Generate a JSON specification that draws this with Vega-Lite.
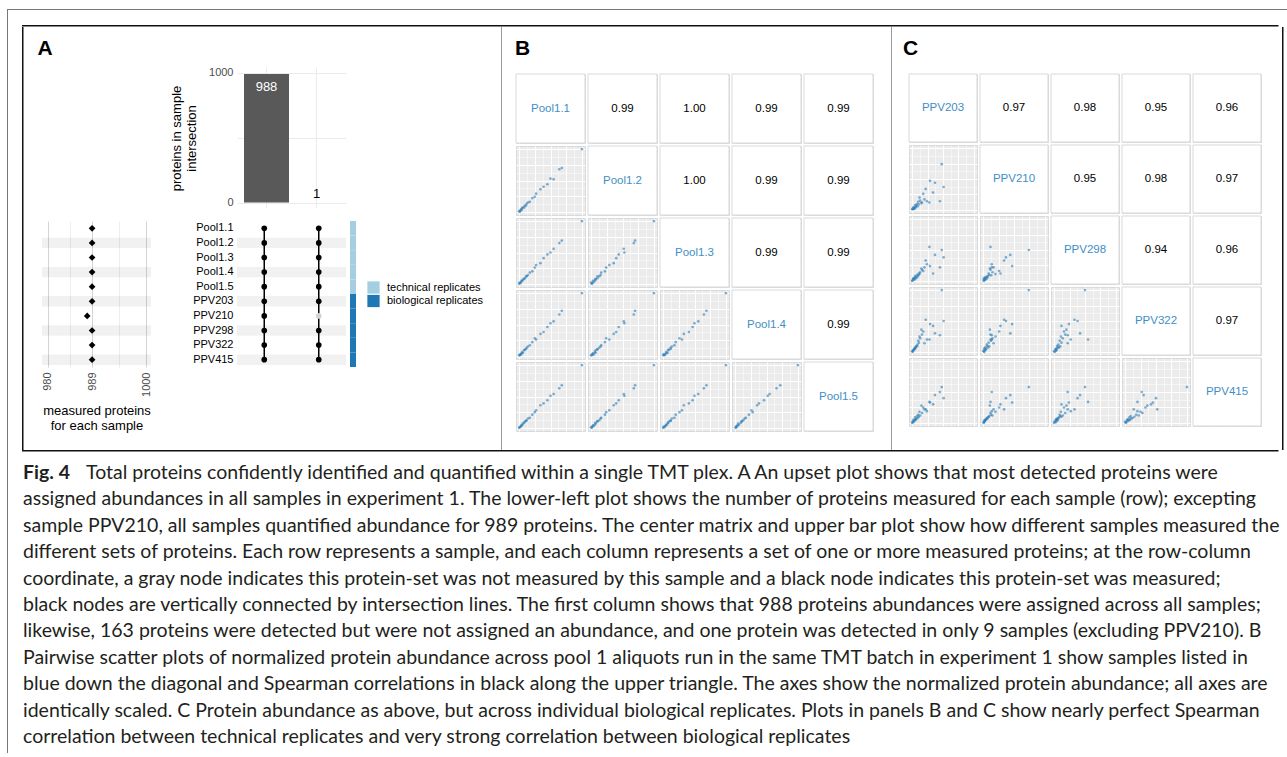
{
"$schema":"https://vega.github.io/schema/vega-lite/v6.json",
"padding":{"left":7,"top":9,"right":0,"bottom":0},
"background":"white",
"config":{"view":{"stroke":null},"font":"Liberation Sans","concat":{"spacing":0}},
"datasets":{
"samples":[{"s":"Pool1.1","n":989,"g":"technical replicates"},{"s":"Pool1.2","n":989,"g":"technical replicates"},{"s":"Pool1.3","n":989,"g":"technical replicates"},{"s":"Pool1.4","n":989,"g":"technical replicates"},{"s":"Pool1.5","n":989,"g":"technical replicates"},{"s":"PPV203","n":989,"g":"biological replicates"},{"s":"PPV210","n":988,"g":"biological replicates"},{"s":"PPV298","n":989,"g":"biological replicates"},{"s":"PPV322","n":989,"g":"biological replicates"},{"s":"PPV415","n":989,"g":"biological replicates"}],
"matrix":[{"s":"Pool1.1","set":"a","m":true},{"s":"Pool1.2","set":"a","m":true},{"s":"Pool1.3","set":"a","m":true},{"s":"Pool1.4","set":"a","m":true},{"s":"Pool1.5","set":"a","m":true},{"s":"PPV203","set":"a","m":true},{"s":"PPV210","set":"a","m":true},{"s":"PPV298","set":"a","m":true},{"s":"PPV322","set":"a","m":true},{"s":"PPV415","set":"a","m":true},{"s":"Pool1.1","set":"b","m":true},{"s":"Pool1.2","set":"b","m":true},{"s":"Pool1.3","set":"b","m":true},{"s":"Pool1.4","set":"b","m":true},{"s":"Pool1.5","set":"b","m":true},{"s":"PPV203","set":"b","m":true},{"s":"PPV210","set":"b","m":false},{"s":"PPV298","set":"b","m":true},{"s":"PPV322","set":"b","m":true},{"s":"PPV415","set":"b","m":true}],
"bars":[{"set":"a","n":988},{"set":"b","n":1}],
"B":[
{"r":1,"c":1,"t":"Pool1.1"},{"r":1,"c":2,"t":"0.99"},{"r":1,"c":3,"t":"1.00"},{"r":1,"c":4,"t":"0.99"},{"r":1,"c":5,"t":"0.99"},
{"r":2,"c":2,"t":"Pool1.2"},{"r":2,"c":3,"t":"1.00"},{"r":2,"c":4,"t":"0.99"},{"r":2,"c":5,"t":"0.99"},
{"r":3,"c":3,"t":"Pool1.3"},{"r":3,"c":4,"t":"0.99"},{"r":3,"c":5,"t":"0.99"},
{"r":4,"c":4,"t":"Pool1.4"},{"r":4,"c":5,"t":"0.99"},
{"r":5,"c":5,"t":"Pool1.5"},
{"r":2,"c":1,"x":0,"y":0.01},{"r":2,"c":1,"x":0.01,"y":0},{"r":2,"c":1,"x":0.02,"y":0.02},{"r":2,"c":1,"x":0.03,"y":0.04},{"r":2,"c":1,"x":0.04,"y":0.03},{"r":2,"c":1,"x":0.05,"y":0.06},{"r":2,"c":1,"x":0.06,"y":0.07},{"r":2,"c":1,"x":0.08,"y":0.07},{"r":2,"c":1,"x":0.09,"y":0.1},{"r":2,"c":1,"x":0.11,"y":0.1},{"r":2,"c":1,"x":0.12,"y":0.13},{"r":2,"c":1,"x":0.14,"y":0.15},{"r":2,"c":1,"x":0.17,"y":0.16},{"r":2,"c":1,"x":0.21,"y":0.22},{"r":2,"c":1,"x":0.25,"y":0.24},{"r":2,"c":1,"x":0.27,"y":0.29},{"r":2,"c":1,"x":0.34,"y":0.36},{"r":2,"c":1,"x":0.39,"y":0.4},{"r":2,"c":1,"x":0.45,"y":0.44},{"r":2,"c":1,"x":0.5,"y":0.53},{"r":2,"c":1,"x":0.55,"y":0.52},{"r":2,"c":1,"x":0.64,"y":0.68},{"r":2,"c":1,"x":0.68,"y":0.7},{"r":2,"c":1,"x":1,"y":1},
{"r":3,"c":1,"x":0,"y":0},{"r":3,"c":1,"x":0.01,"y":0.02},{"r":3,"c":1,"x":0.02,"y":0.01},{"r":3,"c":1,"x":0.03,"y":0.03},{"r":3,"c":1,"x":0.04,"y":0.05},{"r":3,"c":1,"x":0.05,"y":0.05},{"r":3,"c":1,"x":0.06,"y":0.07},{"r":3,"c":1,"x":0.08,"y":0.08},{"r":3,"c":1,"x":0.09,"y":0.09},{"r":3,"c":1,"x":0.11,"y":0.12},{"r":3,"c":1,"x":0.12,"y":0.12},{"r":3,"c":1,"x":0.14,"y":0.14},{"r":3,"c":1,"x":0.17,"y":0.18},{"r":3,"c":1,"x":0.21,"y":0.2},{"r":3,"c":1,"x":0.25,"y":0.26},{"r":3,"c":1,"x":0.27,"y":0.3},{"r":3,"c":1,"x":0.34,"y":0.33},{"r":3,"c":1,"x":0.39,"y":0.41},{"r":3,"c":1,"x":0.45,"y":0.47},{"r":3,"c":1,"x":0.5,"y":0.5},{"r":3,"c":1,"x":0.55,"y":0.56},{"r":3,"c":1,"x":0.64,"y":0.65},{"r":3,"c":1,"x":0.68,"y":0.69},{"r":3,"c":1,"x":1,"y":1},
{"r":3,"c":2,"x":0.01,"y":0},{"r":3,"c":2,"x":0,"y":0.02},{"r":3,"c":2,"x":0.02,"y":0.01},{"r":3,"c":2,"x":0.04,"y":0.03},{"r":3,"c":2,"x":0.03,"y":0.05},{"r":3,"c":2,"x":0.06,"y":0.05},{"r":3,"c":2,"x":0.07,"y":0.07},{"r":3,"c":2,"x":0.07,"y":0.08},{"r":3,"c":2,"x":0.1,"y":0.09},{"r":3,"c":2,"x":0.1,"y":0.12},{"r":3,"c":2,"x":0.13,"y":0.12},{"r":3,"c":2,"x":0.15,"y":0.14},{"r":3,"c":2,"x":0.16,"y":0.18},{"r":3,"c":2,"x":0.22,"y":0.2},{"r":3,"c":2,"x":0.24,"y":0.26},{"r":3,"c":2,"x":0.29,"y":0.3},{"r":3,"c":2,"x":0.36,"y":0.33},{"r":3,"c":2,"x":0.4,"y":0.41},{"r":3,"c":2,"x":0.44,"y":0.47},{"r":3,"c":2,"x":0.53,"y":0.5},{"r":3,"c":2,"x":0.52,"y":0.56},{"r":3,"c":2,"x":0.68,"y":0.65},{"r":3,"c":2,"x":0.7,"y":0.69},{"r":3,"c":2,"x":1,"y":1},
{"r":4,"c":1,"x":0,"y":0.01},{"r":4,"c":1,"x":0.01,"y":0.01},{"r":4,"c":1,"x":0.02,"y":0.03},{"r":4,"c":1,"x":0.03,"y":0.02},{"r":4,"c":1,"x":0.04,"y":0.04},{"r":4,"c":1,"x":0.05,"y":0.06},{"r":4,"c":1,"x":0.06,"y":0.05},{"r":4,"c":1,"x":0.08,"y":0.09},{"r":4,"c":1,"x":0.09,"y":0.1},{"r":4,"c":1,"x":0.11,"y":0.11},{"r":4,"c":1,"x":0.12,"y":0.13},{"r":4,"c":1,"x":0.14,"y":0.15},{"r":4,"c":1,"x":0.17,"y":0.17},{"r":4,"c":1,"x":0.21,"y":0.22},{"r":4,"c":1,"x":0.25,"y":0.28},{"r":4,"c":1,"x":0.27,"y":0.26},{"r":4,"c":1,"x":0.34,"y":0.35},{"r":4,"c":1,"x":0.39,"y":0.38},{"r":4,"c":1,"x":0.45,"y":0.46},{"r":4,"c":1,"x":0.5,"y":0.52},{"r":4,"c":1,"x":0.55,"y":0.55},{"r":4,"c":1,"x":0.64,"y":0.66},{"r":4,"c":1,"x":0.68,"y":0.72},{"r":4,"c":1,"x":1,"y":1},
{"r":4,"c":2,"x":0.01,"y":0.01},{"r":4,"c":2,"x":0,"y":0.01},{"r":4,"c":2,"x":0.02,"y":0.03},{"r":4,"c":2,"x":0.04,"y":0.02},{"r":4,"c":2,"x":0.03,"y":0.04},{"r":4,"c":2,"x":0.06,"y":0.06},{"r":4,"c":2,"x":0.07,"y":0.05},{"r":4,"c":2,"x":0.07,"y":0.09},{"r":4,"c":2,"x":0.1,"y":0.1},{"r":4,"c":2,"x":0.1,"y":0.11},{"r":4,"c":2,"x":0.13,"y":0.13},{"r":4,"c":2,"x":0.15,"y":0.15},{"r":4,"c":2,"x":0.16,"y":0.17},{"r":4,"c":2,"x":0.22,"y":0.22},{"r":4,"c":2,"x":0.24,"y":0.28},{"r":4,"c":2,"x":0.29,"y":0.26},{"r":4,"c":2,"x":0.36,"y":0.35},{"r":4,"c":2,"x":0.4,"y":0.38},{"r":4,"c":2,"x":0.44,"y":0.46},{"r":4,"c":2,"x":0.53,"y":0.52},{"r":4,"c":2,"x":0.52,"y":0.55},{"r":4,"c":2,"x":0.68,"y":0.66},{"r":4,"c":2,"x":0.7,"y":0.72},{"r":4,"c":2,"x":1,"y":1},
{"r":4,"c":3,"x":0,"y":0.01},{"r":4,"c":3,"x":0.02,"y":0.01},{"r":4,"c":3,"x":0.01,"y":0.03},{"r":4,"c":3,"x":0.03,"y":0.02},{"r":4,"c":3,"x":0.05,"y":0.04},{"r":4,"c":3,"x":0.05,"y":0.06},{"r":4,"c":3,"x":0.07,"y":0.05},{"r":4,"c":3,"x":0.08,"y":0.09},{"r":4,"c":3,"x":0.09,"y":0.1},{"r":4,"c":3,"x":0.12,"y":0.11},{"r":4,"c":3,"x":0.12,"y":0.13},{"r":4,"c":3,"x":0.14,"y":0.15},{"r":4,"c":3,"x":0.18,"y":0.17},{"r":4,"c":3,"x":0.2,"y":0.22},{"r":4,"c":3,"x":0.26,"y":0.28},{"r":4,"c":3,"x":0.3,"y":0.26},{"r":4,"c":3,"x":0.33,"y":0.35},{"r":4,"c":3,"x":0.41,"y":0.38},{"r":4,"c":3,"x":0.47,"y":0.46},{"r":4,"c":3,"x":0.5,"y":0.52},{"r":4,"c":3,"x":0.56,"y":0.55},{"r":4,"c":3,"x":0.65,"y":0.66},{"r":4,"c":3,"x":0.69,"y":0.72},{"r":4,"c":3,"x":1,"y":1},
{"r":5,"c":1,"x":0,"y":0},{"r":5,"c":1,"x":0.01,"y":0.01},{"r":5,"c":1,"x":0.02,"y":0.02},{"r":5,"c":1,"x":0.03,"y":0.03},{"r":5,"c":1,"x":0.04,"y":0.04},{"r":5,"c":1,"x":0.05,"y":0.05},{"r":5,"c":1,"x":0.06,"y":0.07},{"r":5,"c":1,"x":0.08,"y":0.08},{"r":5,"c":1,"x":0.09,"y":0.1},{"r":5,"c":1,"x":0.11,"y":0.11},{"r":5,"c":1,"x":0.12,"y":0.12},{"r":5,"c":1,"x":0.14,"y":0.15},{"r":5,"c":1,"x":0.17,"y":0.16},{"r":5,"c":1,"x":0.21,"y":0.21},{"r":5,"c":1,"x":0.25,"y":0.25},{"r":5,"c":1,"x":0.27,"y":0.28},{"r":5,"c":1,"x":0.34,"y":0.36},{"r":5,"c":1,"x":0.39,"y":0.39},{"r":5,"c":1,"x":0.45,"y":0.44},{"r":5,"c":1,"x":0.5,"y":0.51},{"r":5,"c":1,"x":0.55,"y":0.54},{"r":5,"c":1,"x":0.64,"y":0.63},{"r":5,"c":1,"x":0.68,"y":0.68},{"r":5,"c":1,"x":1,"y":1},
{"r":5,"c":2,"x":0.01,"y":0},{"r":5,"c":2,"x":0,"y":0.01},{"r":5,"c":2,"x":0.02,"y":0.02},{"r":5,"c":2,"x":0.04,"y":0.03},{"r":5,"c":2,"x":0.03,"y":0.04},{"r":5,"c":2,"x":0.06,"y":0.05},{"r":5,"c":2,"x":0.07,"y":0.07},{"r":5,"c":2,"x":0.07,"y":0.08},{"r":5,"c":2,"x":0.1,"y":0.1},{"r":5,"c":2,"x":0.1,"y":0.11},{"r":5,"c":2,"x":0.13,"y":0.12},{"r":5,"c":2,"x":0.15,"y":0.15},{"r":5,"c":2,"x":0.16,"y":0.16},{"r":5,"c":2,"x":0.22,"y":0.21},{"r":5,"c":2,"x":0.24,"y":0.25},{"r":5,"c":2,"x":0.29,"y":0.28},{"r":5,"c":2,"x":0.36,"y":0.36},{"r":5,"c":2,"x":0.4,"y":0.39},{"r":5,"c":2,"x":0.44,"y":0.44},{"r":5,"c":2,"x":0.53,"y":0.51},{"r":5,"c":2,"x":0.52,"y":0.54},{"r":5,"c":2,"x":0.68,"y":0.63},{"r":5,"c":2,"x":0.7,"y":0.68},{"r":5,"c":2,"x":1,"y":1},
{"r":5,"c":3,"x":0,"y":0},{"r":5,"c":3,"x":0.02,"y":0.01},{"r":5,"c":3,"x":0.01,"y":0.02},{"r":5,"c":3,"x":0.03,"y":0.03},{"r":5,"c":3,"x":0.05,"y":0.04},{"r":5,"c":3,"x":0.05,"y":0.05},{"r":5,"c":3,"x":0.07,"y":0.07},{"r":5,"c":3,"x":0.08,"y":0.08},{"r":5,"c":3,"x":0.09,"y":0.1},{"r":5,"c":3,"x":0.12,"y":0.11},{"r":5,"c":3,"x":0.12,"y":0.12},{"r":5,"c":3,"x":0.14,"y":0.15},{"r":5,"c":3,"x":0.18,"y":0.16},{"r":5,"c":3,"x":0.2,"y":0.21},{"r":5,"c":3,"x":0.26,"y":0.25},{"r":5,"c":3,"x":0.3,"y":0.28},{"r":5,"c":3,"x":0.33,"y":0.36},{"r":5,"c":3,"x":0.41,"y":0.39},{"r":5,"c":3,"x":0.47,"y":0.44},{"r":5,"c":3,"x":0.5,"y":0.51},{"r":5,"c":3,"x":0.56,"y":0.54},{"r":5,"c":3,"x":0.65,"y":0.63},{"r":5,"c":3,"x":0.69,"y":0.68},{"r":5,"c":3,"x":1,"y":1},
{"r":5,"c":4,"x":0.01,"y":0},{"r":5,"c":4,"x":0.01,"y":0.01},{"r":5,"c":4,"x":0.03,"y":0.02},{"r":5,"c":4,"x":0.02,"y":0.03},{"r":5,"c":4,"x":0.04,"y":0.04},{"r":5,"c":4,"x":0.06,"y":0.05},{"r":5,"c":4,"x":0.05,"y":0.07},{"r":5,"c":4,"x":0.09,"y":0.08},{"r":5,"c":4,"x":0.1,"y":0.1},{"r":5,"c":4,"x":0.11,"y":0.11},{"r":5,"c":4,"x":0.13,"y":0.12},{"r":5,"c":4,"x":0.15,"y":0.15},{"r":5,"c":4,"x":0.17,"y":0.16},{"r":5,"c":4,"x":0.22,"y":0.21},{"r":5,"c":4,"x":0.28,"y":0.25},{"r":5,"c":4,"x":0.26,"y":0.28},{"r":5,"c":4,"x":0.35,"y":0.36},{"r":5,"c":4,"x":0.38,"y":0.39},{"r":5,"c":4,"x":0.46,"y":0.44},{"r":5,"c":4,"x":0.52,"y":0.51},{"r":5,"c":4,"x":0.55,"y":0.54},{"r":5,"c":4,"x":0.66,"y":0.63},{"r":5,"c":4,"x":0.72,"y":0.68},{"r":5,"c":4,"x":1,"y":1}
],
"C":[
{"r":1,"c":1,"t":"PPV203"},{"r":1,"c":2,"t":"0.97"},{"r":1,"c":3,"t":"0.98"},{"r":1,"c":4,"t":"0.95"},{"r":1,"c":5,"t":"0.96"},
{"r":2,"c":2,"t":"PPV210"},{"r":2,"c":3,"t":"0.95"},{"r":2,"c":4,"t":"0.98"},{"r":2,"c":5,"t":"0.97"},
{"r":3,"c":3,"t":"PPV298"},{"r":3,"c":4,"t":"0.94"},{"r":3,"c":5,"t":"0.96"},
{"r":4,"c":4,"t":"PPV322"},{"r":4,"c":5,"t":"0.97"},
{"r":5,"c":5,"t":"PPV415"},
{"r":2,"c":1,"x":0,"y":0.01},{"r":2,"c":1,"x":0.01,"y":0.02},{"r":2,"c":1,"x":0.02,"y":0.01},{"r":2,"c":1,"x":0.03,"y":0.03},{"r":2,"c":1,"x":0.02,"y":0.04},{"r":2,"c":1,"x":0.04,"y":0.02},{"r":2,"c":1,"x":0.05,"y":0.05},{"r":2,"c":1,"x":0.06,"y":0.04},{"r":2,"c":1,"x":0.07,"y":0.07},{"r":2,"c":1,"x":0.05,"y":0.08},{"r":2,"c":1,"x":0.09,"y":0.06},{"r":2,"c":1,"x":0.08,"y":0.1},{"r":2,"c":1,"x":0.11,"y":0.09},{"r":2,"c":1,"x":0.1,"y":0.13},{"r":2,"c":1,"x":0.13,"y":0.15},{"r":2,"c":1,"x":0.16,"y":0.12},{"r":2,"c":1,"x":0.12,"y":0.2},{"r":2,"c":1,"x":0.2,"y":0.17},{"r":2,"c":1,"x":0.18,"y":0.26},{"r":2,"c":1,"x":0.24,"y":0.14},{"r":2,"c":1,"x":0.15,"y":0.11},{"r":2,"c":1,"x":0.48,"y":0.74},{"r":2,"c":1,"x":0.37,"y":0.44},{"r":2,"c":1,"x":0.51,"y":0.37},{"r":2,"c":1,"x":0.29,"y":0.47},{"r":2,"c":1,"x":0.45,"y":0.14},{"r":2,"c":1,"x":0.28,"y":0.12},{"r":2,"c":1,"x":0.22,"y":0.34},{"r":2,"c":1,"x":0.34,"y":0.28},
{"r":3,"c":1,"x":0,"y":0},{"r":3,"c":1,"x":0.01,"y":0.01},{"r":3,"c":1,"x":0.02,"y":0.03},{"r":3,"c":1,"x":0.03,"y":0.02},{"r":3,"c":1,"x":0.02,"y":0.04},{"r":3,"c":1,"x":0.04,"y":0.05},{"r":3,"c":1,"x":0.05,"y":0.03},{"r":3,"c":1,"x":0.06,"y":0.06},{"r":3,"c":1,"x":0.07,"y":0.05},{"r":3,"c":1,"x":0.05,"y":0.08},{"r":3,"c":1,"x":0.09,"y":0.07},{"r":3,"c":1,"x":0.08,"y":0.1},{"r":3,"c":1,"x":0.11,"y":0.12},{"r":3,"c":1,"x":0.1,"y":0.09},{"r":3,"c":1,"x":0.13,"y":0.14},{"r":3,"c":1,"x":0.16,"y":0.18},{"r":3,"c":1,"x":0.12,"y":0.11},{"r":3,"c":1,"x":0.2,"y":0.22},{"r":3,"c":1,"x":0.18,"y":0.16},{"r":3,"c":1,"x":0.24,"y":0.27},{"r":3,"c":1,"x":0.15,"y":0.2},{"r":3,"c":1,"x":0.48,"y":0.5},{"r":3,"c":1,"x":0.37,"y":0.42},{"r":3,"c":1,"x":0.51,"y":0.38},{"r":3,"c":1,"x":0.29,"y":0.24},{"r":3,"c":1,"x":0.45,"y":0.22},{"r":3,"c":1,"x":0.28,"y":0.55},{"r":3,"c":1,"x":0.22,"y":0.33},{"r":3,"c":1,"x":0.34,"y":0.12},
{"r":3,"c":2,"x":0.01,"y":0},{"r":3,"c":2,"x":0.02,"y":0.01},{"r":3,"c":2,"x":0.01,"y":0.03},{"r":3,"c":2,"x":0.03,"y":0.02},{"r":3,"c":2,"x":0.04,"y":0.04},{"r":3,"c":2,"x":0.02,"y":0.05},{"r":3,"c":2,"x":0.05,"y":0.03},{"r":3,"c":2,"x":0.04,"y":0.06},{"r":3,"c":2,"x":0.07,"y":0.05},{"r":3,"c":2,"x":0.08,"y":0.08},{"r":3,"c":2,"x":0.06,"y":0.07},{"r":3,"c":2,"x":0.1,"y":0.1},{"r":3,"c":2,"x":0.09,"y":0.12},{"r":3,"c":2,"x":0.13,"y":0.09},{"r":3,"c":2,"x":0.15,"y":0.14},{"r":3,"c":2,"x":0.12,"y":0.18},{"r":3,"c":2,"x":0.2,"y":0.11},{"r":3,"c":2,"x":0.17,"y":0.22},{"r":3,"c":2,"x":0.26,"y":0.16},{"r":3,"c":2,"x":0.14,"y":0.27},{"r":3,"c":2,"x":0.11,"y":0.2},{"r":3,"c":2,"x":0.74,"y":0.5},{"r":3,"c":2,"x":0.44,"y":0.42},{"r":3,"c":2,"x":0.37,"y":0.38},{"r":3,"c":2,"x":0.47,"y":0.24},{"r":3,"c":2,"x":0.14,"y":0.22},{"r":3,"c":2,"x":0.12,"y":0.55},{"r":3,"c":2,"x":0.34,"y":0.33},{"r":3,"c":2,"x":0.28,"y":0.12},
{"r":4,"c":1,"x":0,"y":0.01},{"r":4,"c":1,"x":0.01,"y":0},{"r":4,"c":1,"x":0.02,"y":0.02},{"r":4,"c":1,"x":0.03,"y":0.04},{"r":4,"c":1,"x":0.02,"y":0.03},{"r":4,"c":1,"x":0.04,"y":0.06},{"r":4,"c":1,"x":0.05,"y":0.05},{"r":4,"c":1,"x":0.06,"y":0.08},{"r":4,"c":1,"x":0.07,"y":0.1},{"r":4,"c":1,"x":0.05,"y":0.07},{"r":4,"c":1,"x":0.09,"y":0.12},{"r":4,"c":1,"x":0.08,"y":0.09},{"r":4,"c":1,"x":0.11,"y":0.15},{"r":4,"c":1,"x":0.1,"y":0.18},{"r":4,"c":1,"x":0.13,"y":0.22},{"r":4,"c":1,"x":0.16,"y":0.28},{"r":4,"c":1,"x":0.12,"y":0.25},{"r":4,"c":1,"x":0.2,"y":0.14},{"r":4,"c":1,"x":0.18,"y":0.33},{"r":4,"c":1,"x":0.24,"y":0.2},{"r":4,"c":1,"x":0.15,"y":0.36},{"r":4,"c":1,"x":0.48,"y":1},{"r":4,"c":1,"x":0.37,"y":0.3},{"r":4,"c":1,"x":0.51,"y":0.5},{"r":4,"c":1,"x":0.29,"y":0.45},{"r":4,"c":1,"x":0.45,"y":0.27},{"r":4,"c":1,"x":0.28,"y":0.2},{"r":4,"c":1,"x":0.22,"y":0.52},{"r":4,"c":1,"x":0.34,"y":0.42},
{"r":4,"c":2,"x":0.01,"y":0.01},{"r":4,"c":2,"x":0.02,"y":0},{"r":4,"c":2,"x":0.01,"y":0.02},{"r":4,"c":2,"x":0.03,"y":0.04},{"r":4,"c":2,"x":0.04,"y":0.03},{"r":4,"c":2,"x":0.02,"y":0.06},{"r":4,"c":2,"x":0.05,"y":0.05},{"r":4,"c":2,"x":0.04,"y":0.08},{"r":4,"c":2,"x":0.07,"y":0.1},{"r":4,"c":2,"x":0.08,"y":0.07},{"r":4,"c":2,"x":0.06,"y":0.12},{"r":4,"c":2,"x":0.1,"y":0.09},{"r":4,"c":2,"x":0.09,"y":0.15},{"r":4,"c":2,"x":0.13,"y":0.18},{"r":4,"c":2,"x":0.15,"y":0.22},{"r":4,"c":2,"x":0.12,"y":0.28},{"r":4,"c":2,"x":0.2,"y":0.25},{"r":4,"c":2,"x":0.17,"y":0.14},{"r":4,"c":2,"x":0.26,"y":0.33},{"r":4,"c":2,"x":0.14,"y":0.2},{"r":4,"c":2,"x":0.11,"y":0.36},{"r":4,"c":2,"x":0.74,"y":1},{"r":4,"c":2,"x":0.44,"y":0.3},{"r":4,"c":2,"x":0.37,"y":0.5},{"r":4,"c":2,"x":0.47,"y":0.45},{"r":4,"c":2,"x":0.14,"y":0.27},{"r":4,"c":2,"x":0.12,"y":0.2},{"r":4,"c":2,"x":0.34,"y":0.52},{"r":4,"c":2,"x":0.28,"y":0.42},
{"r":4,"c":3,"x":0,"y":0.01},{"r":4,"c":3,"x":0.01,"y":0},{"r":4,"c":3,"x":0.03,"y":0.02},{"r":4,"c":3,"x":0.02,"y":0.04},{"r":4,"c":3,"x":0.04,"y":0.03},{"r":4,"c":3,"x":0.05,"y":0.06},{"r":4,"c":3,"x":0.03,"y":0.05},{"r":4,"c":3,"x":0.06,"y":0.08},{"r":4,"c":3,"x":0.05,"y":0.1},{"r":4,"c":3,"x":0.08,"y":0.07},{"r":4,"c":3,"x":0.07,"y":0.12},{"r":4,"c":3,"x":0.1,"y":0.09},{"r":4,"c":3,"x":0.12,"y":0.15},{"r":4,"c":3,"x":0.09,"y":0.18},{"r":4,"c":3,"x":0.14,"y":0.22},{"r":4,"c":3,"x":0.18,"y":0.28},{"r":4,"c":3,"x":0.11,"y":0.25},{"r":4,"c":3,"x":0.22,"y":0.14},{"r":4,"c":3,"x":0.16,"y":0.33},{"r":4,"c":3,"x":0.27,"y":0.2},{"r":4,"c":3,"x":0.2,"y":0.36},{"r":4,"c":3,"x":0.5,"y":1},{"r":4,"c":3,"x":0.42,"y":0.3},{"r":4,"c":3,"x":0.38,"y":0.5},{"r":4,"c":3,"x":0.24,"y":0.45},{"r":4,"c":3,"x":0.22,"y":0.27},{"r":4,"c":3,"x":0.55,"y":0.2},{"r":4,"c":3,"x":0.33,"y":0.52},{"r":4,"c":3,"x":0.12,"y":0.42},
{"r":5,"c":1,"x":0,"y":0},{"r":5,"c":1,"x":0.01,"y":0.02},{"r":5,"c":1,"x":0.02,"y":0.01},{"r":5,"c":1,"x":0.03,"y":0.03},{"r":5,"c":1,"x":0.02,"y":0.05},{"r":5,"c":1,"x":0.04,"y":0.04},{"r":5,"c":1,"x":0.05,"y":0.06},{"r":5,"c":1,"x":0.06,"y":0.05},{"r":5,"c":1,"x":0.07,"y":0.07},{"r":5,"c":1,"x":0.05,"y":0.09},{"r":5,"c":1,"x":0.09,"y":0.08},{"r":5,"c":1,"x":0.08,"y":0.11},{"r":5,"c":1,"x":0.11,"y":0.1},{"r":5,"c":1,"x":0.1,"y":0.13},{"r":5,"c":1,"x":0.13,"y":0.12},{"r":5,"c":1,"x":0.16,"y":0.16},{"r":5,"c":1,"x":0.12,"y":0.18},{"r":5,"c":1,"x":0.2,"y":0.22},{"r":5,"c":1,"x":0.18,"y":0.25},{"r":5,"c":1,"x":0.24,"y":0.19},{"r":5,"c":1,"x":0.15,"y":0.28},{"r":5,"c":1,"x":0.48,"y":0.58},{"r":5,"c":1,"x":0.37,"y":0.45},{"r":5,"c":1,"x":0.51,"y":0.4},{"r":5,"c":1,"x":0.29,"y":0.33},{"r":5,"c":1,"x":0.45,"y":0.5},{"r":5,"c":1,"x":0.28,"y":0.34},{"r":5,"c":1,"x":0.22,"y":0.22},{"r":5,"c":1,"x":0.34,"y":0.3},
{"r":5,"c":2,"x":0.01,"y":0},{"r":5,"c":2,"x":0.02,"y":0.02},{"r":5,"c":2,"x":0.01,"y":0.01},{"r":5,"c":2,"x":0.03,"y":0.03},{"r":5,"c":2,"x":0.04,"y":0.05},{"r":5,"c":2,"x":0.02,"y":0.04},{"r":5,"c":2,"x":0.05,"y":0.06},{"r":5,"c":2,"x":0.04,"y":0.05},{"r":5,"c":2,"x":0.07,"y":0.07},{"r":5,"c":2,"x":0.08,"y":0.09},{"r":5,"c":2,"x":0.06,"y":0.08},{"r":5,"c":2,"x":0.1,"y":0.11},{"r":5,"c":2,"x":0.09,"y":0.1},{"r":5,"c":2,"x":0.13,"y":0.13},{"r":5,"c":2,"x":0.15,"y":0.12},{"r":5,"c":2,"x":0.12,"y":0.16},{"r":5,"c":2,"x":0.2,"y":0.18},{"r":5,"c":2,"x":0.17,"y":0.22},{"r":5,"c":2,"x":0.26,"y":0.25},{"r":5,"c":2,"x":0.14,"y":0.19},{"r":5,"c":2,"x":0.11,"y":0.28},{"r":5,"c":2,"x":0.74,"y":0.58},{"r":5,"c":2,"x":0.44,"y":0.45},{"r":5,"c":2,"x":0.37,"y":0.4},{"r":5,"c":2,"x":0.47,"y":0.33},{"r":5,"c":2,"x":0.14,"y":0.5},{"r":5,"c":2,"x":0.12,"y":0.34},{"r":5,"c":2,"x":0.34,"y":0.22},{"r":5,"c":2,"x":0.28,"y":0.3},
{"r":5,"c":3,"x":0,"y":0},{"r":5,"c":3,"x":0.01,"y":0.02},{"r":5,"c":3,"x":0.03,"y":0.01},{"r":5,"c":3,"x":0.02,"y":0.03},{"r":5,"c":3,"x":0.04,"y":0.05},{"r":5,"c":3,"x":0.05,"y":0.04},{"r":5,"c":3,"x":0.03,"y":0.06},{"r":5,"c":3,"x":0.06,"y":0.05},{"r":5,"c":3,"x":0.05,"y":0.07},{"r":5,"c":3,"x":0.08,"y":0.09},{"r":5,"c":3,"x":0.07,"y":0.08},{"r":5,"c":3,"x":0.1,"y":0.11},{"r":5,"c":3,"x":0.12,"y":0.1},{"r":5,"c":3,"x":0.09,"y":0.13},{"r":5,"c":3,"x":0.14,"y":0.12},{"r":5,"c":3,"x":0.18,"y":0.16},{"r":5,"c":3,"x":0.11,"y":0.18},{"r":5,"c":3,"x":0.22,"y":0.22},{"r":5,"c":3,"x":0.16,"y":0.25},{"r":5,"c":3,"x":0.27,"y":0.19},{"r":5,"c":3,"x":0.2,"y":0.28},{"r":5,"c":3,"x":0.5,"y":0.58},{"r":5,"c":3,"x":0.42,"y":0.45},{"r":5,"c":3,"x":0.38,"y":0.4},{"r":5,"c":3,"x":0.24,"y":0.33},{"r":5,"c":3,"x":0.22,"y":0.5},{"r":5,"c":3,"x":0.55,"y":0.34},{"r":5,"c":3,"x":0.33,"y":0.22},{"r":5,"c":3,"x":0.12,"y":0.3},
{"r":5,"c":4,"x":0.01,"y":0},{"r":5,"c":4,"x":0,"y":0.02},{"r":5,"c":4,"x":0.02,"y":0.01},{"r":5,"c":4,"x":0.04,"y":0.03},{"r":5,"c":4,"x":0.03,"y":0.05},{"r":5,"c":4,"x":0.06,"y":0.04},{"r":5,"c":4,"x":0.05,"y":0.06},{"r":5,"c":4,"x":0.08,"y":0.05},{"r":5,"c":4,"x":0.1,"y":0.07},{"r":5,"c":4,"x":0.07,"y":0.09},{"r":5,"c":4,"x":0.12,"y":0.08},{"r":5,"c":4,"x":0.09,"y":0.11},{"r":5,"c":4,"x":0.15,"y":0.1},{"r":5,"c":4,"x":0.18,"y":0.13},{"r":5,"c":4,"x":0.22,"y":0.12},{"r":5,"c":4,"x":0.28,"y":0.16},{"r":5,"c":4,"x":0.25,"y":0.18},{"r":5,"c":4,"x":0.14,"y":0.22},{"r":5,"c":4,"x":0.33,"y":0.25},{"r":5,"c":4,"x":0.2,"y":0.19},{"r":5,"c":4,"x":0.36,"y":0.28},{"r":5,"c":4,"x":1,"y":0.58},{"r":5,"c":4,"x":0.3,"y":0.45},{"r":5,"c":4,"x":0.5,"y":0.4},{"r":5,"c":4,"x":0.45,"y":0.33},{"r":5,"c":4,"x":0.27,"y":0.5},{"r":5,"c":4,"x":0.2,"y":0.34},{"r":5,"c":4,"x":0.52,"y":0.22},{"r":5,"c":4,"x":0.42,"y":0.3}
],
"cap":[
{"i":1,"b":1,"t":"Fig. 4"},
{"i":1,"b":2,"t":"Total proteins confidently identified and quantified within a single TMT plex. A An upset plot shows that most detected proteins were"},
{"i":2,"t":"assigned abundances in all samples in experiment 1. The lower-left plot shows the number of proteins measured for each sample (row); excepting"},
{"i":3,"t":"sample PPV210, all samples quantified abundance for 989 proteins. The center matrix and upper bar plot show how different samples measured the"},
{"i":4,"t":"different sets of proteins. Each row represents a sample, and each column represents a set of one or more measured proteins; at the row-column"},
{"i":5,"t":"coordinate, a gray node indicates this protein-set was not measured by this sample and a black node indicates this protein-set was measured;"},
{"i":6,"t":"black nodes are vertically connected by intersection lines. The first column shows that 988 proteins abundances were assigned across all samples;"},
{"i":7,"t":"likewise, 163 proteins were detected but were not assigned an abundance, and one protein was detected in only 9 samples (excluding PPV210). B"},
{"i":8,"t":"Pairwise scatter plots of normalized protein abundance across pool 1 aliquots run in the same TMT batch in experiment 1 show samples listed in"},
{"i":9,"t":"blue down the diagonal and Spearman correlations in black along the upper triangle. The axes show the normalized protein abundance; all axes are"},
{"i":10,"t":"identically scaled. C Protein abundance as above, but across individual biological replicates. Plots in panels B and C show nearly perfect Spearman"},
{"i":11,"t":"correlation between technical replicates and very strong correlation between biological replicates"}
]
},
"vconcat":[
{"width":1280,"height":1,"data":{"values":[]},"mark":"point","view":{"fill":"#777777"}},
{"hconcat":[
{"width":1,"height":743,"data":{"values":[]},"mark":"point","view":{"fill":"#777777"}},
{"vconcat":[
{"width":1256.5,"height":15,"data":{"values":[]},"mark":"point"},
{"width":1256.5,"height":1.5,"data":{"values":[]},"mark":"point","view":{"fill":"#111111"}},
{"hconcat":[
{"width":1.5,"height":423,"data":{"values":[]},"mark":"point","view":{"fill":"#111111"}},
{"vconcat":[
{"hconcat":[
{"width":212.5,"height":193.5,"data":{"values":[{}]},"mark":{"type":"text","text":"A","fontSize":21,"fontWeight":"bold","align":"left","baseline":"middle","color":"black"},"encoding":{"x":{"value":13.5},"y":{"value":21.5}}},
{"width":109,"height":193.5,"data":{"name":"bars"},
"encoding":{"x":{"field":"set","type":"nominal","scale":{"domain":["a","b"],"paddingInner":0.1,"paddingOuter":0.14},"axis":null},
"y":{"field":"n","type":"quantitative","scale":{"domain":[-46,1038.5],"range":[181.5,40.5],"nice":false,"zero":false},"axis":{"values":[0,500,1000],"format":"d","labelExpr":"datum.value == 500 ? '' : datum.label","grid":true,"gridColor":"#ebebeb","domain":false,"ticks":false,"labelFontSize":11,"labelColor":"#4d4d4d","labelPadding":4,"title":["proteins in sample","intersection"],"titleFontSize":13,"titleFontWeight":"normal","titleColor":"black","titlePadding":10}}},
"layer":[
{"mark":{"type":"rule","color":"#ebebeb","strokeWidth":1},"encoding":{"y":{"datum":-46},"y2":{"datum":1038.5}}},
{"mark":{"type":"bar","color":"#595959"}},
{"transform":[{"filter":"datum.n > 100"}],"mark":{"type":"text","color":"white","baseline":"top","dy":7,"fontSize":13},"encoding":{"text":{"field":"n","type":"quantitative"}}},
{"transform":[{"filter":"datum.n < 100"}],"mark":{"type":"text","color":"black","baseline":"bottom","dy":-1,"fontSize":13},"encoding":{"text":{"field":"n","type":"quantitative"}}}
]},
{"width":155,"height":193.5,"data":{"values":[]},"mark":"point"}
],"spacing":0,"bounds":"flush"},
{"hconcat":[
{"width":17.5,"height":146,"data":{"values":[]},"mark":"point"},
{"width":109,"height":146,"data":{"name":"samples"},
"encoding":{"y":{"field":"s","type":"nominal","sort":["Pool1.1","Pool1.2","Pool1.3","Pool1.4","Pool1.5","PPV203","PPV210","PPV298","PPV322","PPV415"],"scale":{"paddingInner":0.29,"paddingOuter":0.145},"axis":null}},
"layer":[
{"transform":[{"filter":{"field":"s","oneOf":["Pool1.2","Pool1.4","PPV203","PPV298","PPV415"]}}],"mark":{"type":"rect","color":"black","opacity":0.055}},
{"mark":{"type":"point","shape":"diamond","filled":true,"color":"black","size":45,"opacity":1},
"encoding":{"x":{"field":"n","type":"quantitative","scale":{"domain":[978.78,1001.02],"nice":false,"zero":false},"axis":{"values":[980,984.5,989,994.5,1000],"format":"d","labelExpr":"datum.value == 984.5 || datum.value == 994.5 ? '' : datum.label","grid":true,"gridColor":{"condition":{"test":"datum.value == 984.5 || datum.value == 994.5","value":"#eeeeee"},"value":"#d4d4d4"},"domain":false,"ticks":false,"labelAngle":270,"labelFontSize":11,"labelColor":"#4d4d4d","labelPadding":5,"title":["measured proteins","for each sample"],"titleFontSize":13,"titleFontWeight":"normal","titleColor":"black","titlePadding":8}}}}
]},
{"width":86,"height":146,"data":{"values":[]},"mark":"point"},
{"width":109,"height":146,"data":{"name":"matrix"},
"encoding":{"y":{"field":"s","type":"nominal","sort":["Pool1.1","Pool1.2","Pool1.3","Pool1.4","Pool1.5","PPV203","PPV210","PPV298","PPV322","PPV415"],"scale":{"paddingInner":0.29,"paddingOuter":0.145},"axis":{"title":null,"domain":false,"ticks":false,"labelFontSize":11,"labelColor":"black","labelPadding":4}}},
"layer":[
{"transform":[{"filter":{"field":"s","oneOf":["Pool1.2","Pool1.4","PPV203","PPV298","PPV415"]}},{"filter":"datum.set == 'a'"}],"mark":{"type":"rect","color":"black","opacity":0.055}},
{"transform":[{"filter":"datum.m"}],"mark":{"type":"line","color":"black","strokeWidth":1.5},"encoding":{"x":{"field":"set","type":"nominal","scale":{"domain":["a","b"],"paddingInner":0.1,"paddingOuter":0.14},"axis":null},"detail":{"field":"set"},"order":{"value":null}}},
{"mark":{"type":"point","filled":true,"size":32,"opacity":1},"encoding":{"x":{"field":"set","type":"nominal","scale":{"domain":["a","b"],"paddingInner":0.1,"paddingOuter":0.14},"axis":null},"color":{"condition":{"test":"datum.m","value":"black"},"value":"#d3d3d3"}}}
]},
{"width":4,"height":146,"data":{"values":[]},"mark":"point"},
{"width":6,"height":146,"data":{"name":"samples"},"mark":{"type":"rect"},
"encoding":{"y":{"field":"s","type":"nominal","sort":["Pool1.1","Pool1.2","Pool1.3","Pool1.4","Pool1.5","PPV203","PPV210","PPV298","PPV322","PPV415"],"scale":{"paddingInner":0,"paddingOuter":0},"axis":null},
"color":{"field":"g","type":"nominal","scale":{"domain":["technical replicates","biological replicates"],"range":["#a6cee3","#1f78b4"]},"legend":{"title":null,"orient":"none","legendX":360,"legendY":272,"symbolType":"square","symbolSize":150,"symbolStrokeWidth":0,"symbolOpacity":1,"labelFontSize":11,"labelColor":"black","rowPadding":0.5,"labelOffset":7,"padding":0}}}},
{"width":145,"height":146,"data":{"values":[]},"mark":"point"}
],"spacing":0,"bounds":"flush"}
],"spacing":0},
{"width":1,"height":423,"data":{"values":[]},"mark":"point","view":{"fill":"#9a9a9a"}},
{"vconcat":[
{"width":387,"height":45.5,"data":{"values":[{}]},"mark":{"type":"text","text":"B","fontSize":21,"fontWeight":"bold","align":"left","baseline":"middle","color":"black"},"encoding":{"x":{"value":13},"y":{"value":21.5}}},
{"hconcat":[
{"width":13,"height":357,"data":{"values":[]},"mark":"point"},
{"data":{"name":"B"},
"facet":{"row":{"field":"r","type":"ordinal","title":null,"header":{"labels":false}},"column":{"field":"c","type":"ordinal","title":null,"header":{"labels":false}}},
"spacing":3,"bounds":"flush",
"spec":{"width":69,"height":69,"view":{"fill":"#ebebeb","stroke":"#d9d9d9"},
"layer":[
{"transform":[{"filter":"isValid(datum.x)"}],"mark":{"type":"point","filled":true,"size":7,"color":"#2c7bb6","opacity":0.6},
"encoding":{"x":{"field":"x","type":"quantitative","scale":{"domain":[-0.05,1.05],"nice":false,"zero":false},"axis":{"grid":true,"gridColor":"white","gridWidth":{"condition":{"test":"(datum.value*4) % 1 == 0","value":1},"value":0.5},"values":[0,0.125,0.25,0.375,0.5,0.625,0.75,0.875,1],"labels":false,"ticks":false,"domain":false,"title":null}},
"y":{"field":"y","type":"quantitative","scale":{"domain":[-0.05,1.05],"nice":false,"zero":false},"axis":{"grid":true,"gridColor":"white","gridWidth":{"condition":{"test":"(datum.value*4) % 1 == 0","value":1},"value":0.5},"values":[0,0.125,0.25,0.375,0.5,0.625,0.75,0.875,1],"labels":false,"ticks":false,"domain":false,"title":null}}}},
{"transform":[{"filter":"isValid(datum.t)"}],"mark":{"type":"rect","fill":"white","stroke":"#d9d9d9","strokeWidth":1}},
{"transform":[{"filter":"datum.r == datum.c"}],"mark":{"type":"text","fontSize":11.5,"color":"#3f8ec6"},"encoding":{"text":{"field":"t"}}},
{"transform":[{"filter":"datum.r < datum.c"}],"mark":{"type":"text","fontSize":11.5,"color":"black"},"encoding":{"text":{"field":"t"}}}
]}},
{"width":17,"height":357,"data":{"values":[]},"mark":"point"}
],"spacing":0}
],"spacing":0},
{"width":1,"height":423,"data":{"values":[]},"mark":"point","view":{"fill":"#9a9a9a"}},
{"vconcat":[
{"width":388,"height":45.5,"data":{"values":[{}]},"mark":{"type":"text","text":"C","fontSize":21,"fontWeight":"bold","align":"left","baseline":"middle","color":"black"},"encoding":{"x":{"value":11},"y":{"value":21.5}}},
{"hconcat":[
{"width":16,"height":352,"data":{"values":[]},"mark":"point"},
{"data":{"name":"C"},
"facet":{"row":{"field":"r","type":"ordinal","title":null,"header":{"labels":false}},"column":{"field":"c","type":"ordinal","title":null,"header":{"labels":false}}},
"spacing":3,"bounds":"flush",
"spec":{"width":68,"height":68,"view":{"fill":"#ebebeb","stroke":"#d9d9d9"},
"layer":[
{"transform":[{"filter":"isValid(datum.x)"}],"mark":{"type":"point","filled":true,"size":7,"color":"#2c7bb6","opacity":0.6},
"encoding":{"x":{"field":"x","type":"quantitative","scale":{"domain":[-0.05,1.05],"nice":false,"zero":false},"axis":{"grid":true,"gridColor":"white","gridWidth":{"condition":{"test":"(datum.value*4) % 1 == 0","value":1},"value":0.5},"values":[0,0.125,0.25,0.375,0.5,0.625,0.75,0.875,1],"labels":false,"ticks":false,"domain":false,"title":null}},
"y":{"field":"y","type":"quantitative","scale":{"domain":[-0.05,1.05],"nice":false,"zero":false},"axis":{"grid":true,"gridColor":"white","gridWidth":{"condition":{"test":"(datum.value*4) % 1 == 0","value":1},"value":0.5},"values":[0,0.125,0.25,0.375,0.5,0.625,0.75,0.875,1],"labels":false,"ticks":false,"domain":false,"title":null}}}},
{"transform":[{"filter":"isValid(datum.t)"}],"mark":{"type":"rect","fill":"white","stroke":"#d9d9d9","strokeWidth":1}},
{"transform":[{"filter":"datum.r == datum.c"}],"mark":{"type":"text","fontSize":11.5,"color":"#3f8ec6"},"encoding":{"text":{"field":"t"}}},
{"transform":[{"filter":"datum.r < datum.c"}],"mark":{"type":"text","fontSize":11.5,"color":"black"},"encoding":{"text":{"field":"t"}}}
]}},
{"width":20,"height":352,"data":{"values":[]},"mark":"point"}
],"spacing":0}
],"spacing":0},
{"width":1.5,"height":423,"data":{"values":[]},"mark":"point","view":{"fill":"#111111"}}
],"spacing":0},
{"width":1256.5,"height":1.5,"data":{"values":[]},"mark":"point","view":{"fill":"#111111"}},
{"width":1256,"height":306,"data":{"name":"cap"},
"encoding":{"y":{"field":"i","type":"ordinal","axis":null,"scale":{"type":"point","padding":0.78}}},
"layer":[
{"transform":[{"filter":"datum.b == 1"}],"mark":{"type":"text","align":"left","baseline":"middle","font":"Lato","fontSize":19.5,"fontWeight":"bold","color":"#231f20"},"encoding":{"x":{"value":1},"text":{"field":"t"}}},
{"transform":[{"filter":"datum.b == 2"}],"mark":{"type":"text","align":"left","baseline":"middle","font":"Lato","fontSize":19.5,"color":"#231f20"},"encoding":{"x":{"value":64},"text":{"field":"t"}}},
{"transform":[{"filter":"!datum.b"}],"mark":{"type":"text","align":"left","baseline":"middle","font":"Lato","fontSize":19.5,"color":"#231f20"},"encoding":{"x":{"value":1},"text":{"field":"t"}}}
]}
],"spacing":0}
],"spacing":14}
],
"spacing":0
}
